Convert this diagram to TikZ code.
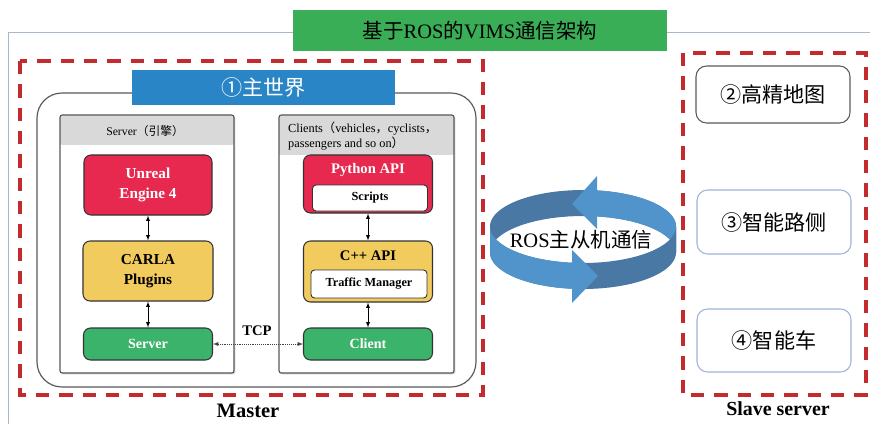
\documentclass[tikz,border=0pt]{standalone}
\usepackage{fontspec}
\setmainfont{Liberation Serif}
\newfontfamily\cjk{Noto Sans CJK SC}
\usetikzlibrary{arrows,shadows}

\definecolor{titlegreen}{HTML}{3AAE57}
\definecolor{worldblue}{HTML}{2A85C7}
\definecolor{dashred}{HTML}{C42B2E}
\definecolor{framegray}{HTML}{A9B7CC}
\definecolor{enginered}{HTML}{E8294F}
\definecolor{pluginyel}{HTML}{F2CB5E}
\definecolor{servgreen}{HTML}{3BB36A}
\definecolor{headgray}{HTML}{D9D9D9}
\definecolor{ringlight}{HTML}{5193CB}
\definecolor{ringdark}{HTML}{4A78A4}
\definecolor{slaveline}{HTML}{9DB4D6}

\tikzset{
  module/.style={draw=black!80, line width=0.9pt, rounded corners=6pt,
    font=\bfseries\fontsize{13}{16.5}\selectfont, align=center},
  innerbox/.style={draw=black!80, fill=white, line width=0.8pt, rounded corners=3pt,
    font=\bfseries\fontsize{10.5}{12}\selectfont},
  panel/.style={draw=black!65, line width=1pt, rounded corners=2pt, fill=white,
    drop shadow={shadow xshift=1.2pt, shadow yshift=-1.2pt, fill=black!35},
    path picture={\fill[headgray] (path picture bounding box.north west)
      rectangle ([yshift=-#1]path picture bounding box.north east);}},
  slavebox/.style={draw=slaveline, line width=0.9pt, rounded corners=9pt,
    minimum width=4.62cm, font=\cjk\fontsize{18}{21}\selectfont},
  redframe/.style={draw=dashred, line width=2.6pt, dash pattern=on 0.4cm off 0.3cm},
  link/.style={<->, >=latex, line width=0.6pt},
}

\begin{document}
\begin{tikzpicture}[x=0.03cm, y=-0.03cm]
  \useasboundingbox (0,0) rectangle (870,424);
  % outer frame and title
  \draw[framegray, line width=0.6pt] (8,424) -- (8,32) -- (870,32);
  \node[fill=titlegreen, minimum width=11.22cm, minimum height=1.23cm,
    font=\fontsize{17.5}{20}\selectfont] (title) at (480,30.5)
    {{\cjk 基于}ROS{\cjk 的}VIMS{\cjk 通信架构}};
  \draw[redframe] (20,61) rectangle (483,395);
  \draw[redframe] (683,53) rectangle (866,395);

  % main world
  \draw[black!65, line width=1pt, rounded corners=0.75cm] (37,93) rectangle (476,387);
  \node[fill=worldblue, text=white, minimum width=7.89cm, minimum height=1.05cm,
    font=\cjk\fontsize{18}{21}\selectfont] (world) at (263.5,87.5) {①主世界};

  \node[panel=0.9cm, minimum width=5.22cm, minimum height=7.74cm] (srvpanel) at (147,244) {};
  \node[panel=1.2cm, minimum width=5.25cm, minimum height=7.74cm] (clipanel) at (366.5,244) {};
  \node[font=\fontsize{10}{12}\selectfont] (srvhead) at (145,131) {Server{\cjk （引擎）}};
  \node[font=\fontsize{10.5}{13.5}\selectfont, align=left, anchor=west] (clihead) at (284,136)
    {Clients{\cjk （}vehicles{\cjk ，}cyclists{\cjk ，}\\passengers and so on{\cjk ）}};

  \node[module, fill=enginered, text=white, minimum width=3.84cm, minimum height=1.8cm]
    (unreal) at (148,185) {Unreal\\Engine 4};
  \node[module, fill=pluginyel, minimum width=3.9cm, minimum height=1.8cm]
    (plugins) at (148,271) {CARLA\\Plugins};
  \node[module, fill=servgreen, text=white, minimum width=3.87cm, minimum height=0.96cm,
    font=\bfseries\fontsize{12}{14}\selectfont] (server) at (148,344) {Server};

  \node[module, fill=enginered, minimum width=3.87cm, minimum height=1.74cm,
    label={[text=white, font=\bfseries\fontsize{12.5}{15}\selectfont, anchor=north, yshift=-4pt]north:Python API}]
    (python) at (368,184) {};
  \node[innerbox, minimum width=3.45cm, minimum height=0.78cm] (scripts) at (370,198) {Scripts};
  \node[module, fill=pluginyel, minimum width=3.87cm, minimum height=1.83cm,
    label={[font=\bfseries\fontsize{12.5}{15}\selectfont, anchor=north, yshift=-5pt]north:C++ API}]
    (cppapi) at (368,271.5) {};
  \node[innerbox, minimum width=3.48cm, minimum height=0.84cm] (traffic) at (369,284) {Traffic Manager};
  \node[module, fill=servgreen, text=white, minimum width=3.87cm, minimum height=0.96cm,
    font=\bfseries\fontsize{12}{14}\selectfont] (client) at (368,344) {Client};

  \draw[link] (unreal) -- (plugins);
  \draw[link] (plugins) -- (server);
  \draw[link] (python) -- (cppapi);
  \draw[link] (cppapi) -- (client);
  \draw[link, densely dotted, black!75] (server) -- (client);
  \node[font=\bfseries\fontsize{12.5}{15}\selectfont] (tcp) at (257,331) {TCP};

  % ROS ring
  \fill[ringdark] plot[domain=180:360, samples=50] ({583+93*cos(\x)},{226.5+36.5*sin(\x)})
    -- plot[domain=360:180, samples=50] ({583+93*cos(\x)},{252.5+36.5*sin(\x)}) -- cycle;
  \begin{scope}
    \clip (597,150) rectangle (700,260);
    \fill[ringlight] plot[domain=180:360, samples=50] ({583+93*cos(\x)},{226.5+36.5*sin(\x)})
      -- plot[domain=360:180, samples=50] ({583+93*cos(\x)},{252.5+36.5*sin(\x)}) -- cycle;
  \end{scope}
  \fill[ringlight] (597,176) -- (597,229) -- (572,204) -- cycle;
  \fill[ringdark] plot[domain=0:180, samples=50] ({583+93*cos(\x)},{226.5+36.5*sin(\x)})
    -- plot[domain=180:0, samples=50] ({583+93*cos(\x)},{252.5+36.5*sin(\x)}) -- cycle;
  \begin{scope}
    \clip (470,200) rectangle (572,320);
    \fill[ringlight] plot[domain=0:180, samples=50] ({583+93*cos(\x)},{226.5+36.5*sin(\x)})
      -- plot[domain=180:0, samples=50] ({583+93*cos(\x)},{252.5+36.5*sin(\x)}) -- cycle;
  \end{scope}
  \fill[ringlight] (572,250) -- (572,303) -- (598,276) -- cycle;
  \node[font=\fontsize{17.5}{20}\selectfont] (ros) at (581,240) {ROS{\cjk 主从机通信}};

  % slave side
  \node[slavebox, draw=black!65, minimum height=1.71cm] (hdmap) at (773,94.5) {②高精地图};
  \node[slavebox, minimum height=1.92cm] (roadside) at (774,222) {③智能路侧};
  \node[slavebox, minimum height=1.89cm] (smartcar) at (774,340.5) {④智能车};

  \node[font=\bfseries\fontsize{17.5}{20}\selectfont] (master) at (248,411) {Master};
  \node[font=\bfseries\fontsize{17}{20}\selectfont] (slave) at (778,409) {Slave server};
\end{tikzpicture}
\end{document}
